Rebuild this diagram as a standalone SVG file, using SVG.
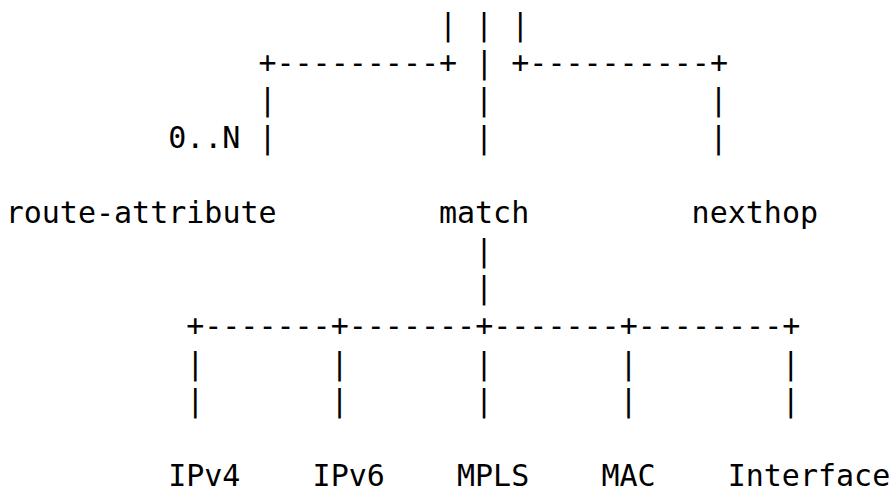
<svg xmlns="http://www.w3.org/2000/svg" width="893" height="492" viewBox="0 0 893 492">
<style>
text { font-family: "DejaVu Sans Mono", "Liberation Mono", monospace; font-size: 30px; fill: #000; white-space: pre; }
</style>
<rect width="893" height="492" fill="#fff"/>
<g id="connectors">
<text x="438.9" y="35.2">| | |</text>
<text x="258.4" y="72.8">+---------+ | +----------+</text>
<text x="258.4" y="110.4">|</text>
<text x="475" y="110.4">|</text>
<text x="709.6" y="110.4">|</text>
<text x="258.4" y="148">|</text>
<text x="475" y="148">|</text>
<text x="709.6" y="148">|</text>
<text x="475" y="260.8">|</text>
<text x="475" y="298.4">|</text>
<text x="186.2" y="336">+-------+-------+-------+--------+</text>
<text x="186.2" y="373.6">|</text>
<text x="330.6" y="373.6">|</text>
<text x="475" y="373.6">|</text>
<text x="619.4" y="373.6">|</text>
<text x="781.8" y="373.6">|</text>
<text x="186.2" y="411.2">|</text>
<text x="330.6" y="411.2">|</text>
<text x="475" y="411.2">|</text>
<text x="619.4" y="411.2">|</text>
<text x="781.8" y="411.2">|</text>
</g>
<g id="label-cardinality"><text x="168.2" y="148">0..N</text></g>
<g id="node-route-attribute"><text x="5.7" y="223.2">route-attribute</text></g>
<g id="node-match"><text x="438.9" y="223.2">match</text></g>
<g id="node-nexthop"><text x="691.6" y="223.2">nexthop</text></g>
<g id="node-ipv4"><text x="168.2" y="486.4">IPv4</text></g>
<g id="node-ipv6"><text x="312.6" y="486.4">IPv6</text></g>
<g id="node-mpls"><text x="457" y="486.4">MPLS</text></g>
<g id="node-mac"><text x="601.4" y="486.4">MAC</text></g>
<g id="node-interface"><text x="727.7" y="486.4">Interface</text></g>
</svg>
